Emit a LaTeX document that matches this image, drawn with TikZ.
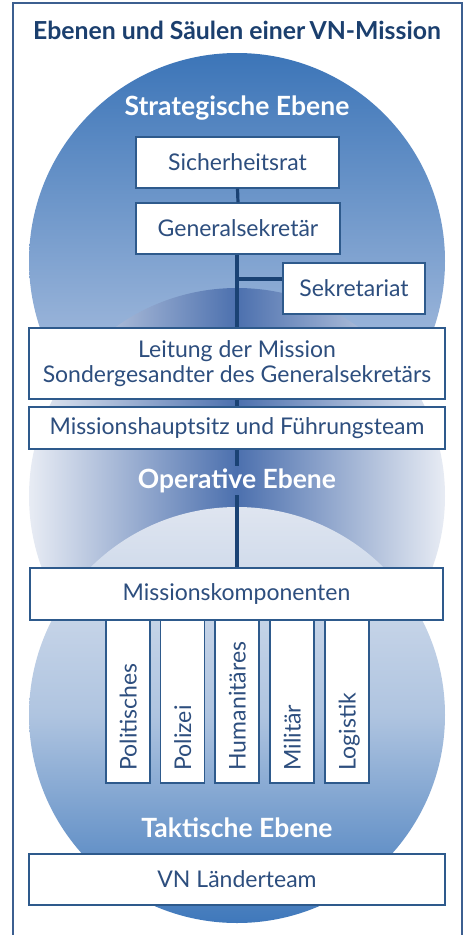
\documentclass[tikz,border=0pt]{standalone}
\usepackage{fontspec}
\setmainfont{Lato}
\usetikzlibrary{calc}
\definecolor{navy}{HTML}{1B3F6E}
\definecolor{boxc}{HTML}{2E5A8C}
\definecolor{txtc}{HTML}{2D4E7E}
\definecolor{linec}{HTML}{1A4274}
\definecolor{frame}{HTML}{3C5F90}
\definecolor{cdark}{HTML}{3C75B8}
\definecolor{clight}{HTML}{C6D2E9}
\definecolor{mdark}{HTML}{4C70AE}
\definecolor{mlight}{HTML}{E8ECF4}
\definecolor{bdark}{HTML}{3F78BB}
\definecolor{blight}{HTML}{DFE5F0}
\tikzset{
  box/.style={draw=boxc, line width=1.2pt, fill=white, text=txtc, inner sep=0pt,
    font=\fontsize{23}{24}\selectfont, align=center},
  pillar/.style={box, minimum width=44pt, minimum height=163pt},
  ptext/.style={text=txtc, font=\fontsize{23}{24}\selectfont, rotate=90, anchor=base west, inner sep=0pt},
  level/.style={text=white, font=\bfseries\fontsize{26.5}{28}\selectfont, inner sep=0pt},
  conn/.style={draw=linec, line width=3.2pt}
}
\begin{document}
\begin{tikzpicture}[x=1pt,y=-1pt]
\useasboundingbox (0,0) rectangle (464,935);
\fill[white] (0,0) rectangle (464,935);
\draw[frame, line width=1.2pt] (13,940) -- (13,3) -- (462,3) -- (462,940);
% circles
\shade[top color=cdark, bottom color=clight] (237,261) circle (208);
\shade[left color=mlight, right color=mlight, middle color=mdark] (237,496) circle (208);
\shade[top color=blight, bottom color=bdark, middle color=blight!70!bdark] (237,715) circle (208);
% title
\node[text=navy, font=\bfseries\fontsize{24.8}{28}\selectfont, inner sep=0pt] (title) at (237,30) {Ebenen und Säulen einer\,VN-Mission};
\node[level] (strat) at (237,108) {Strategische Ebene};
\node[level, minimum height=29pt] (opl) at (237,480.5) {Operative Ebene};
\node[level] (tak) at (237,828) {Taktische Ebene};
% boxes
\node[box, minimum width=203pt, minimum height=51pt] (sr) at (237.5,162.5) {Sicherheitsrat};
\node[box, minimum width=204pt, minimum height=51pt] (gs) at (238,228.5) {Generalsekretär};
\node[box, minimum width=142pt, minimum height=51pt] (sek) at (354,288.5) {Sekretariat};
\node[box, minimum width=416pt, minimum height=71pt, font=\fontsize{23}{25}\selectfont] (lm) at (237,363.5) {Leitung der Mission\\Sondergesandter des Generalsekretärs};
\node[box, minimum width=416pt, minimum height=42pt] (mh) at (237,428) {Missionshauptsitz und Führungsteam};
\node[box, minimum width=413pt, minimum height=52pt] (mk) at (236.5,594) {Missionskomponenten};
\node[box, minimum width=416pt, minimum height=51pt] (vn) at (237,879.5) {VN Länderteam};
% pillars
\foreach \x/\t/\n in {128/Politisches/p1, 182.5/Polizei/p2, 237/Humanitäres/p3, 292/Militär/p4, 347/Logistik/p5}{
  \node[pillar] (\n) at (\x,701.5) {};
  \node[ptext] (\n t) at ($(\n.south)+(8.5,-13)$) {\t};
}
% connectors
\coordinate (br) at (237,279);
\draw[conn] (sr.south) -- (gs.north);
\draw[conn] (gs.south -| 237,0) -- (lm.north -| 237,0);
\draw[conn] (br) -- (br -| sek.west);
\draw[conn] (lm.south) -- (mh.north);
\draw[conn] (mh.south) -- (opl.north);
\draw[conn] (opl.south) -- (mk.north -| opl.south);
\end{tikzpicture}
\end{document}
